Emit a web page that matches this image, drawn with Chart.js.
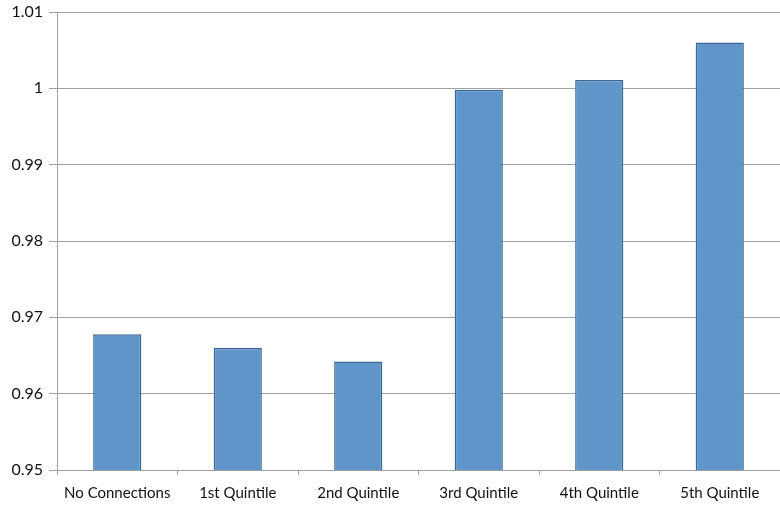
<!DOCTYPE html>
<html>
<head>
<meta charset="utf-8">
<script src="https://cdn.jsdelivr.net/npm/chart.js@4"></script>
<style>
  html, body { margin: 0; padding: 0; background: #fff; }
  #wrap { width: 780px; height: 505px; }
</style>
</head>
<body>
<div id="wrap"><canvas id="ratioChart" width="780" height="505"></canvas></div>
<script>
const categories = ['No Connections', '1st Quintile', '2nd Quintile', '3rd Quintile', '4th Quintile', '5th Quintile'];
const values = [0.9678, 0.9660, 0.9642, 0.9998, 1.0011, 1.0060];
const yMin = 0.95;
const yMax = 1.01;
const yStep = 0.01;

const gridGrey = '#a0a0a0';

const ratioChart = new Chart(
  document.getElementById('ratioChart'),
  {
    type: 'bar',
    data: {
      labels: categories,
      datasets: [
        {
          data: values,
          backgroundColor: '#5f95c9',
          borderColor: '#3a6896',
          borderWidth: 1.5,
          borderSkipped: false,
          barPercentage: 0.4,
          categoryPercentage: 1
        }
      ]
    },
    options: {
      responsive: false,
      animation: false,
      layout: { padding: 0 },
      plugins: {
        legend: { display: false },
        tooltip: { enabled: false }
      },
      scales: {
        x: {
          grid: {
            offset: true,
            drawOnChartArea: false,
            drawTicks: true,
            tickLength: 5,
            color: gridGrey
          },
          border: { color: gridGrey, width: 1 },
          ticks: {
            color: '#111',
            font: { family: 'Lato', size: 15 },
            padding: 9,
            maxRotation: 0
          },
          afterFit: (scale) => { scale.height = 35; }
        },
        y: {
          min: yMin,
          max: yMax,
          grid: {
            color: gridGrey,
            lineWidth: 1,
            tickLength: 8
          },
          border: { color: gridGrey, width: 1 },
          ticks: {
            stepSize: yStep,
            color: '#111',
            font: { family: 'Lato', size: 16 },
            padding: 6,
            callback: (v) => parseFloat(v.toFixed(2)).toString()
          },
          // fixed axis width and top gap so the plot lines up with the original
          afterFit: (scale) => {
            scale.width = 57;
            scale.paddingTop = 12;
          }
        }
      }
    }
  }
);
</script>
</body>
</html>
